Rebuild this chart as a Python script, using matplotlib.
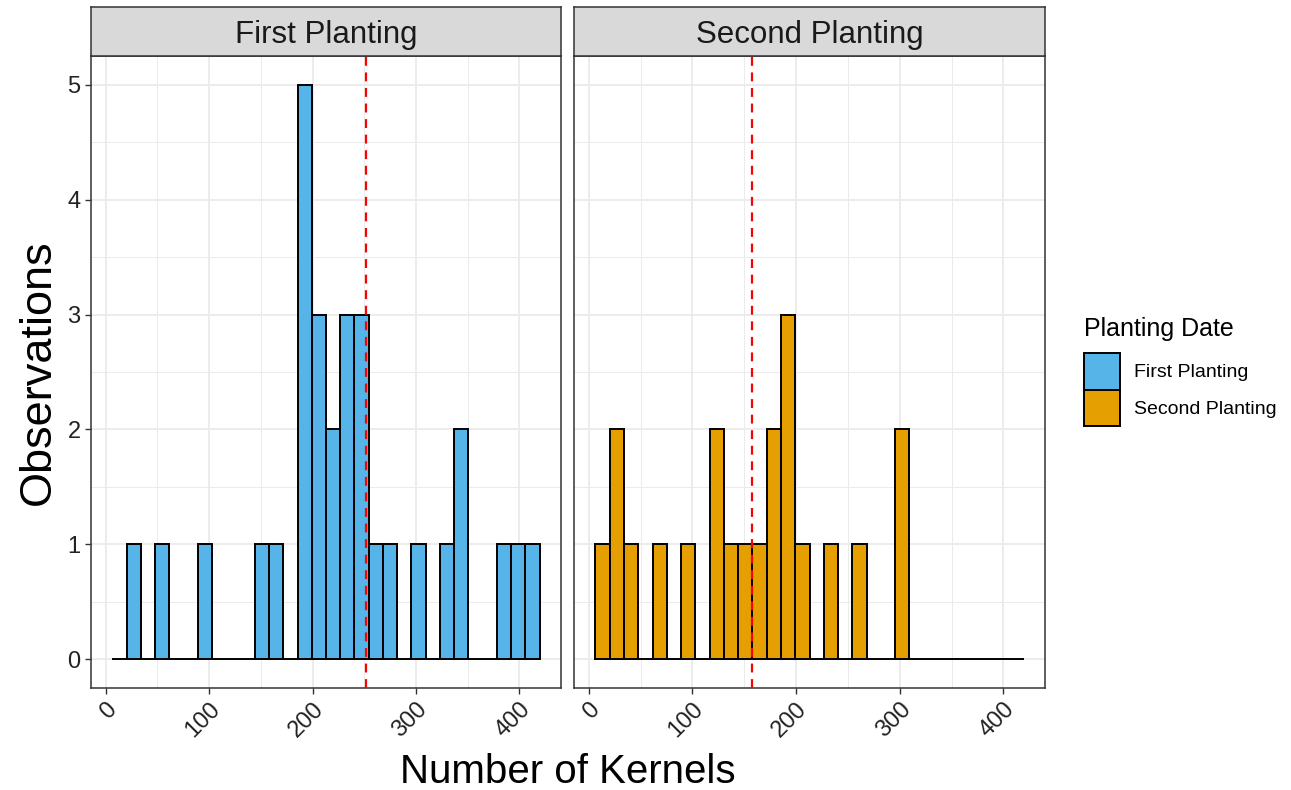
import numpy as np
import matplotlib
matplotlib.use('Agg')
import matplotlib.pyplot as plt
from matplotlib.patches import Patch

plt.rcParams['font.family'] = ['Liberation Sans', 'DejaVu Sans']

# histogram bins (30 bins, shared between panels)
bin_start = 6.4
bin_width = 13.77
first_counts = [0, 1, 0, 1, 0, 0, 1, 0, 0, 0, 1, 1, 0, 5, 3, 2, 3, 3, 1, 1,
                0, 1, 0, 1, 2, 0, 0, 1, 1, 1]
second_counts = [1, 2, 1, 0, 1, 0, 1, 0, 2, 1, 1, 1, 2, 3, 1, 0, 1, 0, 1, 0,
                 0, 2, 0, 0, 0, 0, 0, 0, 0, 0]
panels = ['First Planting', 'Second Planting']
mean_lines = [251.7, 157.1]
colors = ['#56B4E9', '#E69F00']
x_ticks = [0, 100, 200, 300, 400]
y_ticks = [0, 1, 2, 3, 4, 5]

W, H = 1291, 790
fig = plt.figure(figsize=(W / 100, H / 100), dpi=100)

def fx(px): return px / W
def fy(py): return 1 - py / H

edges = bin_start + bin_width * np.arange(len(first_counts))
x_lo = edges[0] - 0.05 * (edges[-1] + bin_width - edges[0])
x_hi = edges[-1] + bin_width + 0.05 * (edges[-1] + bin_width - edges[0])

panel_px = [(91, 561), (574, 1045)]
top, bot, strip_top = 56, 688, 7
axes = []
for i, (counts, name) in enumerate(zip([first_counts, second_counts], panels)):
    x0, x1 = panel_px[i]
    ax = fig.add_axes([fx(x0), fy(bot), fx(x1 - x0), (bot - top) / H])
    ax.bar(edges, counts, width=bin_width, align='edge', color=colors[i],
           edgecolor='black', linewidth=1.4, zorder=3)
    ax.axvline(mean_lines[i], color='red', linestyle=(0, (4, 3)), linewidth=1.6, zorder=4)
    ax.set_xlim(x_lo, x_hi)
    ax.set_ylim(-0.25, 5.25)
    ax.set_xticks(x_ticks)
    ax.set_xticks([50, 150, 250, 350], minor=True)
    ax.set_yticks(y_ticks)
    ax.set_yticks([0.5, 1.5, 2.5, 3.5, 4.5], minor=True)
    ax.grid(True, which='major', color='#EBEBEB', linewidth=1.3, zorder=0)
    ax.grid(True, which='minor', color='#EBEBEB', linewidth=0.7, zorder=0)
    ax.set_axisbelow(True)
    ax.tick_params(which='minor', length=0)
    ax.tick_params(which='major', length=4, width=1, color='#333333',
                   labelsize=17, labelcolor='#222222')
    ax.set_xticklabels([str(t) for t in x_ticks], rotation=45, ha='right',
                       va='top', rotation_mode='anchor')
    if i == 1:
        ax.tick_params(axis='y', labelleft=False, length=0)
    for s in ax.spines.values():
        s.set_color('#333333')
        s.set_linewidth(1.1)
    # strip
    sax = fig.add_axes([fx(x0), fy(top), fx(x1 - x0), (top - strip_top) / H])
    sax.set_facecolor('#D9D9D9')
    sax.set_xticks([]); sax.set_yticks([])
    for s in sax.spines.values():
        s.set_color('#333333')
        s.set_linewidth(1.1)
    sax.text(0.5, 0.42, name, ha='center', va='center', fontsize=22.5,
             color='#1A1A1A', transform=sax.transAxes)
    axes.append(ax)

fig.text(fx(38), fy(372), 'Observations', rotation=90, ha='center', va='center',
         fontsize=32.5, color='black')
fig.text(fx(568), fy(772), 'Number of Kernels', ha='center', va='center',
         fontsize=29, color='black')

handles = [Patch(facecolor=c, edgecolor='black', linewidth=1.4) for c in colors]
leg = fig.legend(handles, panels, title='Planting Date', loc='upper left',
                 bbox_to_anchor=(fx(1076), fy(309)), frameon=False, fontsize=14,
                 title_fontsize=18, handlelength=1.85, handleheight=2.5,
                 labelspacing=0.0, handletextpad=0.75, borderaxespad=0)
leg._legend_box.align = 'left'
leg._legend_box.sep = 9

fig.savefig('out.png', dpi=100)
